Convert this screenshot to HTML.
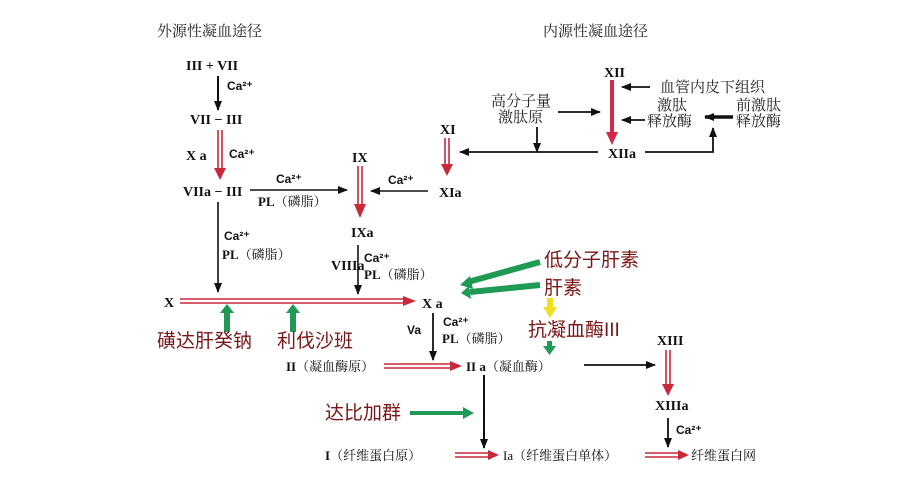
<!DOCTYPE html>
<html><head><meta charset="utf-8"><style>
html,body{margin:0;padding:0;background:#fff;}
svg{display:block;}
.r{font-family:"Liberation Serif","Noto Serif CJK SC",serif;font-weight:bold;font-size:14px;fill:#111;}
.s{font-family:"Liberation Sans","Noto Sans CJK SC",sans-serif;font-size:12px;fill:#111;font-weight:bold;}
.c{font-family:"Liberation Serif","Noto Serif CJK SC",serif;font-size:13px;fill:#111;}
.t{font-family:"Liberation Serif","Noto Serif CJK SC",serif;font-size:15px;fill:#222;}
.g{font-family:"Liberation Sans","Noto Sans CJK SC",sans-serif;font-size:19px;fill:#7a1616;}
</style></head><body>
<svg width="919" height="480" viewBox="0 0 919 480" xmlns="http://www.w3.org/2000/svg">
<defs>
<marker id="ab" markerWidth="10" markerHeight="8" refX="9" refY="4" orient="auto" markerUnits="userSpaceOnUse"><path d="M0,0 L10,4 L0,8 Z" fill="#111"/></marker>
</defs>
<!-- titles -->
<text x="157" y="36" class="t">外源性凝血途径</text>
<text x="543" y="36" class="t">内源性凝血途径</text>

<!-- extrinsic -->
<text x="186" y="70" class="r">III + VII</text>
<line x1="218" y1="76" x2="218" y2="110" stroke="#111" stroke-width="2" marker-end="url(#ab)"/>
<text x="227" y="90" class="s">Ca²⁺</text>
<text x="190" y="124" class="r">VII − III</text>
<g stroke="#c8283a" stroke-width="1.6"><line x1="218" y1="130" x2="218" y2="170"/><line x1="222" y1="130" x2="222" y2="170"/></g>
<path d="M214,168 L226,168 L220,180 Z" fill="#c8283a"/>
<text x="186" y="160" class="r">X a</text>
<text x="229" y="158" class="s">Ca²⁺</text>
<text x="183" y="196" class="r">VIIa − III</text>
<line x1="250" y1="190" x2="347" y2="190" stroke="#111" stroke-width="1.6" marker-end="url(#ab)"/>
<text x="276" y="183" class="s">Ca²⁺</text>
<text x="258" y="206" class="c"><tspan font-weight="bold">PL</tspan>（磷脂）</text>
<line x1="218" y1="202" x2="218" y2="292" stroke="#111" stroke-width="1.6" marker-end="url(#ab)"/>
<text x="224" y="240" class="s">Ca²⁺</text>
<text x="222" y="259" class="c"><tspan font-weight="bold">PL</tspan>（磷脂）</text>

<!-- IX -->
<text x="352" y="162" class="r">IX</text>
<g stroke="#c8283a" stroke-width="1.6"><line x1="358" y1="166" x2="358" y2="206"/><line x1="362" y1="166" x2="362" y2="206"/></g>
<path d="M354,204 L366,204 L360,218 Z" fill="#c8283a"/>
<text x="351" y="237" class="r">IXa</text>
<line x1="428" y1="191" x2="371" y2="191" stroke="#111" stroke-width="1.6" marker-end="url(#ab)"/>
<text x="388" y="184" class="s">Ca²⁺</text>
<text x="439" y="197" class="r">XIa</text>
<text x="440" y="134" class="r">XI</text>
<g stroke="#c8283a" stroke-width="1.6"><line x1="445" y1="138" x2="445" y2="166"/><line x1="449" y1="138" x2="449" y2="166"/></g>
<path d="M441,164 L453,164 L447,176 Z" fill="#c8283a"/>
<text x="331" y="270" class="r" font-size="12">VIIIa</text>
<line x1="358" y1="245" x2="358" y2="294" stroke="#111" stroke-width="1.6" marker-end="url(#ab)"/>
<text x="364" y="262" class="s">Ca²⁺</text>
<text x="364" y="279" class="c"><tspan font-weight="bold">PL</tspan>（磷脂）</text>

<!-- intrinsic top -->
<text x="604" y="77" class="r" font-size="12">XII</text>
<line x1="612" y1="80" x2="612" y2="134" stroke="#d02a48" stroke-width="4"/>
<path d="M606,132 L618,132 L612,145 Z" fill="#d02a48"/>
<line x1="650" y1="87" x2="622" y2="87" stroke="#111" stroke-width="1.8" marker-end="url(#ab)"/>
<text x="660" y="92" class="t" font-size="14">血管内皮下组织</text>
<text x="491" y="106" class="t" font-size="14">高分子量</text>
<text x="498" y="122" class="t" font-size="14">激肽原</text>
<line x1="558" y1="112" x2="600" y2="112" stroke="#111" stroke-width="1.8" marker-end="url(#ab)"/>
<line x1="537" y1="127" x2="537" y2="152" stroke="#111" stroke-width="1.8" marker-end="url(#ab)"/>
<text x="657" y="110" class="t" font-size="14">激肽</text>
<text x="647" y="126" class="t" font-size="14">释放酶</text>
<line x1="645" y1="120" x2="622" y2="120" stroke="#111" stroke-width="1.8" marker-end="url(#ab)"/>
<text x="736" y="110" class="t" font-size="14">前激肽</text>
<text x="736" y="126" class="t" font-size="14">释放酶</text>
<line x1="733" y1="117" x2="705" y2="117" stroke="#111" stroke-width="3.5" marker-end="url(#ab)"/>
<text x="608" y="158" class="r" font-size="13">XIIa</text>
<polyline points="645,152 713,152 713,128" fill="none" stroke="#111" stroke-width="1.8" marker-end="url(#ab)"/>
<line x1="598" y1="152" x2="460" y2="152" stroke="#111" stroke-width="1.8" marker-end="url(#ab)"/>

<!-- X line -->
<text x="164" y="307" class="r">X</text>
<g stroke="#c8283a" stroke-width="1.6"><line x1="180" y1="299" x2="405" y2="299"/><line x1="180" y1="303" x2="405" y2="303"/></g>
<path d="M403,296 L416,301 L403,306 Z" fill="#c8283a"/>
<text x="422" y="308" class="r">X a</text>
<g fill="#1f9a55">
<rect x="224" y="312" width="6" height="20"/><path d="M220,313 L234,313 L227,304 Z"/>
<rect x="290" y="312" width="6" height="20"/><path d="M286,313 L300,313 L293,304 Z"/>
</g>
<text x="157" y="347" class="g">磺达肝癸钠</text>
<text x="277" y="347" class="g">利伐沙班</text>
<g stroke="#1f9a55" stroke-width="6" fill="none"><line x1="540" y1="262" x2="468" y2="282"/><line x1="540" y1="285" x2="470" y2="292"/></g>
<path d="M460,285 L470,276 L473,289 Z" fill="#1f9a55"/>
<path d="M461,293 L469,286 L471,299 Z" fill="#1f9a55"/>
<text x="544" y="266" class="g">低分子肝素</text>
<text x="544" y="294" class="g">肝素</text>
<rect x="547" y="298" width="6" height="10" fill="#f0e020"/>
<path d="M543,307 L557,307 L550,318 Z" fill="#f0e020"/>
<text x="528" y="336" class="g">抗凝血酶III</text>
<rect x="547" y="341" width="5" height="7" fill="#1f9a55"/>
<path d="M543,346 L556,346 L549.5,355 Z" fill="#1f9a55"/>

<!-- Xa to IIa -->
<text x="407" y="334" class="s">Va</text>
<line x1="433" y1="313" x2="433" y2="360" stroke="#111" stroke-width="1.8" marker-end="url(#ab)"/>
<text x="443" y="326" class="s">Ca²⁺</text>
<text x="442" y="343" class="c"><tspan font-weight="bold">PL</tspan>（磷脂）</text>
<text x="286" y="371" class="c"><tspan font-weight="bold">II</tspan>（凝血酶原）</text>
<g stroke="#c8283a" stroke-width="1.6"><line x1="384" y1="364" x2="452" y2="364"/><line x1="384" y1="368" x2="452" y2="368"/></g>
<path d="M450,361 L462,366 L450,371 Z" fill="#c8283a"/>
<text x="466" y="371" class="c"><tspan font-weight="bold">II a</tspan>（凝血酶）</text>
<line x1="584" y1="365" x2="655" y2="365" stroke="#111" stroke-width="1.8" marker-end="url(#ab)"/>
<text x="657" y="345" class="r" font-size="12">XIII</text>
<g stroke="#c8283a" stroke-width="1.6"><line x1="666" y1="350" x2="666" y2="386"/><line x1="670" y1="350" x2="670" y2="386"/></g>
<path d="M662,384 L674,384 L668,396 Z" fill="#c8283a"/>
<text x="655" y="410" class="r" font-size="12">XIIIa</text>
<line x1="668" y1="418" x2="668" y2="447" stroke="#111" stroke-width="1.8" marker-end="url(#ab)"/>
<text x="676" y="434" class="s">Ca²⁺</text>
<line x1="484" y1="375" x2="484" y2="448" stroke="#111" stroke-width="2" marker-end="url(#ab)"/>
<text x="325" y="419" class="g">达比加群</text>
<rect x="410" y="411" width="55" height="4" fill="#1f9a55"/>
<path d="M463,407 L474,413 L463,419 Z" fill="#1f9a55"/>
<text x="325" y="460" class="c"><tspan font-weight="bold">I</tspan>（纤维蛋白原）</text>
<g stroke="#c8283a" stroke-width="1.6"><line x1="455" y1="453" x2="490" y2="453"/><line x1="455" y1="457" x2="490" y2="457"/></g>
<path d="M488,450 L499,455 L488,460 Z" fill="#c8283a"/>
<text x="503" y="460" class="c">Ia（纤维蛋白单体）</text>
<g stroke="#c8283a" stroke-width="1.6"><line x1="645" y1="453" x2="680" y2="453"/><line x1="645" y1="457" x2="680" y2="457"/></g>
<path d="M678,450 L689,455 L678,460 Z" fill="#c8283a"/>
<text x="691" y="460" class="c">纤维蛋白网</text>
</svg>
</body></html>
